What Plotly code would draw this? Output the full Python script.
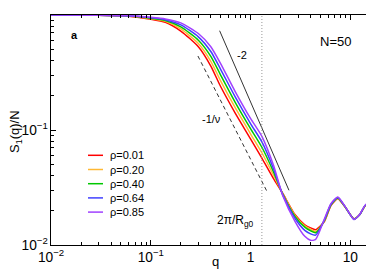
import plotly.graph_objects as go

# ---- data ----
q = [0.01, 0.03, 0.06, 0.1, 0.14, 0.2, 0.3, 0.4, 0.5, 0.7, 1.0, 1.3, 1.7, 2.1,
     2.8, 3.5, 4.0, 4.5, 5.5, 6.4, 7.5, 8.8, 10.9, 12.4, 14.4, 16.2, 18.0, 20.3]

s_001 = [1.0, 0.995, 0.975, 0.920, 0.865, 0.725, 0.530, 0.360, 0.240, 0.141, 0.0838, 0.0569,
         0.0378, 0.0282, 0.0183, 0.0150, 0.0141, 0.0136, 0.0160, 0.0220, 0.0252, 0.0216,
         0.0169, 0.0183, 0.0222, 0.0201, 0.0191, 0.0205]
s_020 = [1.0, 0.996, 0.978, 0.929, 0.880, 0.756, 0.566, 0.396, 0.269, 0.157, 0.0927, 0.0634,
         0.0404, 0.0280, 0.0180, 0.0147, 0.0137, 0.0131, 0.0161, 0.0222, 0.0254, 0.0216,
         0.0168, 0.0183, 0.0223, 0.0201, 0.0191, 0.0205]
s_040 = [1.0, 0.996, 0.980, 0.938, 0.895, 0.787, 0.604, 0.437, 0.302, 0.175, 0.1028, 0.0708,
         0.0432, 0.0277, 0.0176, 0.0143, 0.0133, 0.0128, 0.0163, 0.0224, 0.0256, 0.0217,
         0.0168, 0.0183, 0.0224, 0.0201, 0.0191, 0.0205]
s_064 = [1.0, 0.997, 0.983, 0.946, 0.910, 0.820, 0.646, 0.481, 0.339, 0.195, 0.1138, 0.0789,
         0.0461, 0.0274, 0.0170, 0.0134, 0.0125, 0.0122, 0.0165, 0.0226, 0.0259, 0.0218,
         0.0167, 0.0183, 0.0225, 0.0200, 0.0190, 0.0205]
s_085 = [1.0, 0.997, 0.985, 0.955, 0.925, 0.855, 0.690, 0.530, 0.380, 0.217, 0.126, 0.088,
         0.0493, 0.0270, 0.0160, 0.0119, 0.0110, 0.0112, 0.0168, 0.0229, 0.0262, 0.0219,
         0.0167, 0.0184, 0.0226, 0.0200, 0.0190, 0.0205]

series = [s_001, s_020, s_040, s_064, s_085]
labels = ["ρ=0.01", "ρ=0.20", "ρ=0.40", "ρ=0.64", "ρ=0.85"]
colors = ["#ff0000", "#ffb834", "#00c800", "#4040ff", "#a040ff"]

# guide lines
nu_q = [0.297, 1.49]
nu_s = [0.44, 0.0283]
two_q = [0.49, 2.43]
two_s = [0.73, 0.0299]
q_rg0 = [1.30, 1.30]
rg0_s = [0.01, 1.0]

fig = go.Figure()
for s, lab, c in zip(series, labels, colors):
    fig.add_trace(go.Scatter(x=q, y=s, mode="lines", name=lab, showlegend=False,
                             line=dict(color=c, width=1.5, shape="spline", smoothing=0.6)))

fig.add_trace(go.Scatter(x=nu_q, y=nu_s, mode="lines", showlegend=False,
                         line=dict(color="#333333", width=1, dash="4px,3px")))
fig.add_trace(go.Scatter(x=two_q, y=two_s, mode="lines", showlegend=False,
                         line=dict(color="#333333", width=1)))
fig.add_trace(go.Scatter(x=q_rg0, y=rg0_s, mode="lines", showlegend=False,
                         line=dict(color="#999999", width=1, dash="1px,2px")))

font = "Liberation Sans, Arial, sans-serif"
axis_common = dict(type="log", dtick=1, exponentformat="power", showgrid=False,
                   zeroline=False, showline=True, linecolor="black", linewidth=1,
                   mirror="allticks", ticks="inside", ticklen=5, tickcolor="black",
                   tickfont=dict(size=11, color="black", family=font),
                   minor=dict(ticks="inside", ticklen=3, tickcolor="black", dtick="D1"))

fig.update_layout(
    width=374, height=269,
    margin=dict(l=43, r=1, t=7, b=32),
    paper_bgcolor="white", plot_bgcolor="white",
    font=dict(family=font, color="black"),
    xaxis=dict(range=[-2, 1.308], **axis_common),
    yaxis=dict(range=[-2, 0], **axis_common),
    showlegend=False,
)

# legend drawn as swatches + text
leg_y = [147.3, 161.5, 175.7, 189.9, 204.1]
for yy, lab, c in zip(leg_y, labels, colors):
    yp = 1 - (yy - 7) / 230
    x0 = (80 - 43) / 330
    x1 = (95 - 43) / 330
    fig.add_shape(type="line", xref="paper", yref="paper", x0=x0, x1=x1, y0=yp, y1=yp,
                  line=dict(color=c, width=1.5))
    fig.add_annotation(xref="paper", yref="paper", x=(100 - 43) / 330, y=yp, text=lab,
                       showarrow=False, xanchor="left", yanchor="middle",
                       font=dict(size=11, family=font, color="black"))

def px(xpix):
    return (xpix - 43) / 330

def py(ypix):
    return 1 - (ypix - 7) / 230

ann = [
    (66, 27, "<b>a</b>", 11),
    (327, 33, "N=50", 13),
    (234, 47, "-2", 11),
    (203, 111, "-1/ν", 11),
    (227, 213, "2π/R<sub>g0</sub>", 12),
]
for xx, yy, t, fs in ann:
    fig.add_annotation(xref="paper", yref="paper", x=px(xx), y=py(yy), text=t,
                       showarrow=False, xanchor="center", yanchor="middle",
                       font=dict(size=fs, family=font, color="black"))

# axis titles
fig.add_annotation(xref="paper", yref="paper", x=px(207), y=py(253), text="q",
                   showarrow=False, xanchor="center", yanchor="middle",
                   font=dict(size=13, family=font, color="black"))
fig.add_annotation(xref="paper", yref="paper", x=px(8), y=py(124), text="S<sub>1</sub>(q)/N",
                   textangle=-90, showarrow=False, xanchor="center", yanchor="middle",
                   font=dict(size=13, family=font, color="black"))

fig.write_html("out.html")
